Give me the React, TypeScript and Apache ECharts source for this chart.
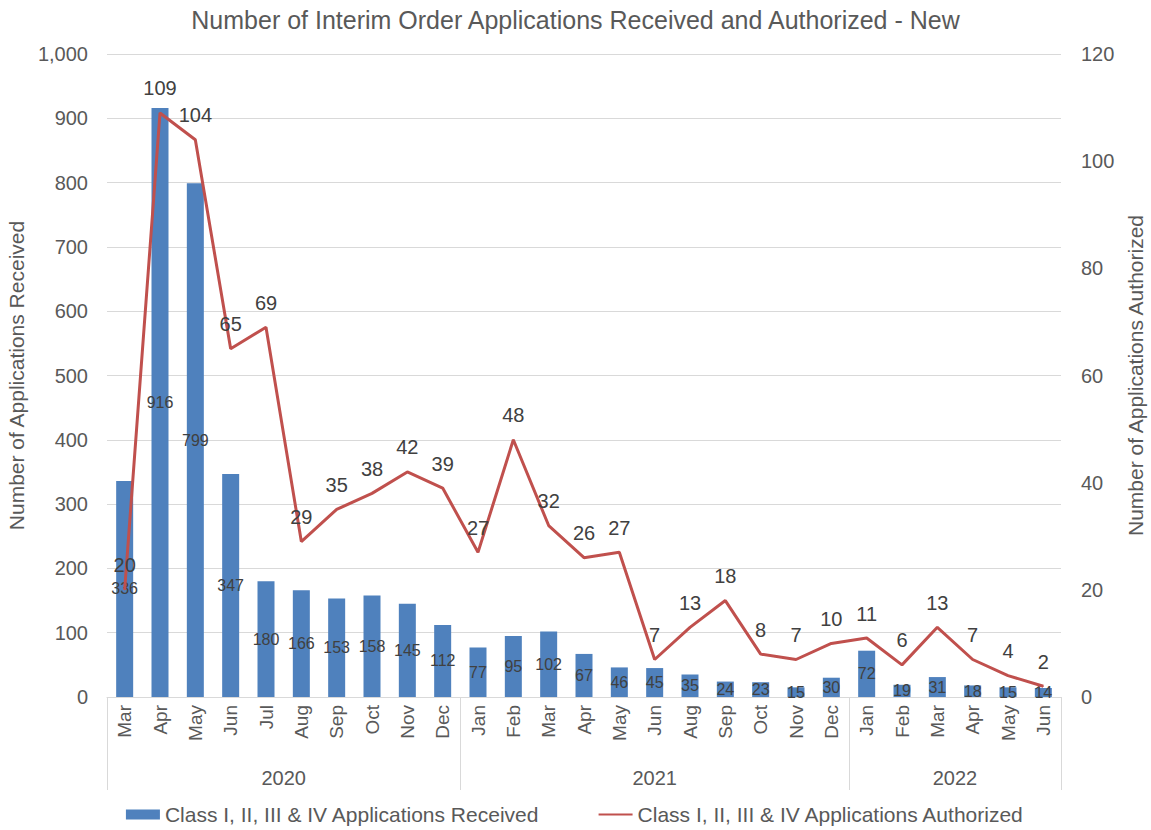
import React, { useEffect, useRef } from "react";
import * as echarts from "echarts";

const months = [
  "Mar", "Apr", "May", "Jun", "Jul", "Aug", "Sep", "Oct", "Nov", "Dec",
  "Jan", "Feb", "Mar", "Apr", "May", "Jun", "Aug", "Sep", "Oct", "Nov", "Dec",
  "Jan", "Feb", "Mar", "Apr", "May", "Jun",
];
const years = ["2020", "2021", "2022"];
const yearCounts = [10, 11, 6];
const received = [336, 916, 799, 347, 180, 166, 153, 158, 145, 112, 77, 95, 102, 67, 46, 45, 35, 24, 23, 15, 30, 72, 19, 31, 18, 15, 14];
const authorized = [20, 109, 104, 65, 69, 29, 35, 38, 42, 39, 27, 48, 32, 26, 27, 7, 13, 18, 8, 7, 10, 11, 6, 13, 7, 4, 2];

const TXT = "#595959";
const FONT = "Liberation Sans";

export default function App() {
  const ref = useRef<HTMLDivElement>(null);
  useEffect(() => {
    if (!ref.current) return;
    const chart = echarts.init(ref.current, null, { renderer: "svg" });
    const bounds: number[] = [0];
    const centers: number[] = [];
    yearCounts.forEach((c) => {
      const s = bounds[bounds.length - 1];
      centers.push(s + c / 2);
      bounds.push(s + c);
    });
    const total = months.length;
    chart.setOption({
      animation: false,
      textStyle: { fontFamily: FONT },
      title: {
        text: "Number of Interim Order Applications Received and Authorized - New",
        left: "center",
        top: 2,
        textStyle: { fontSize: 25, fontWeight: "normal", color: TXT, fontFamily: FONT },
      },
      legend: {
        bottom: 0,
        left: "center",
        itemGap: 58,
        itemWidth: 34,
        itemHeight: 10,
        textStyle: { fontSize: 21, color: TXT, fontFamily: FONT },
        data: [
          { name: "Class I, II, III & IV Applications Received", icon: "rect" },
          { name: "Class I, II, III & IV Applications Authorized", itemStyle: { opacity: 0 } },
        ],
      },
      grid: { left: 107, right: 90, top: 54, bottom: 133, outerBoundsMode: "none", containLabel: false },
      xAxis: [
        {
          type: "category",
          data: months,
          axisLine: { lineStyle: { color: "#d9d9d9" } },
          axisTick: { show: false },
          axisLabel: { rotate: 90, fontSize: 19, color: TXT, margin: 8, interval: 0 },
        },
        {
          type: "value",
          position: "bottom",
          min: 0,
          max: total,
          axisLine: { show: false },
          splitLine: { show: false },
          axisTick: {
            show: true,
            length: 93,
            customValues: bounds,
            lineStyle: { color: "#d9d9d9" },
          },
          axisLabel: {
            customValues: centers,
            margin: 71,
            fontSize: 20,
            color: TXT,
            formatter: (v: number) => {
              const i = centers.findIndex((c) => Math.abs(c - v) < 1e-6);
              return i >= 0 ? years[i] : "";
            },
          },
        },
      ],
      yAxis: [
        {
          type: "value",
          min: 0,
          max: 1000,
          interval: 100,
          name: "Number of Applications Received",
          nameLocation: "middle",
          nameGap: 79,
          nameTextStyle: { fontSize: 21, color: TXT },
          axisLine: { show: false },
          axisTick: { show: false },
          axisLabel: {
            fontSize: 20,
            color: TXT,
            margin: 19,
            formatter: (v: number) => v.toLocaleString("en-US"),
          },
          splitLine: { lineStyle: { color: "#d9d9d9" } },
        },
        {
          type: "value",
          min: 0,
          max: 120,
          interval: 20,
          name: "Number of Applications Authorized",
          nameLocation: "middle",
          nameGap: 49,
          nameTextStyle: { fontSize: 21, color: TXT },
          axisLine: { show: false },
          axisTick: { show: false },
          axisLabel: { fontSize: 20, color: TXT, margin: 20 },
          splitLine: { show: false },
        },
      ],
      series: [
        {
          name: "Class I, II, III & IV Applications Received",
          type: "bar",
          data: received,
          barWidth: 17,
          itemStyle: { color: "#4f81bd" },
          label: { show: true, position: "inside", fontSize: 16, color: "#404040" },
        },
        {
          name: "Class I, II, III & IV Applications Authorized",
          type: "line",
          yAxisIndex: 1,
          data: authorized,
          symbol: "circle",
          symbolSize: 1,
          lineStyle: { color: "#c0504d", width: 3 },
          itemStyle: { color: "#c0504d" },
          label: { show: true, position: "top", fontSize: 20, color: "#404040", distance: 14 },
        },
      ],
    });
    return () => chart.dispose();
  }, []);
  return (
    <div
      ref={ref}
      style={{ position: "absolute", left: 0, top: 0, width: 1151, height: 830 }}
    />
  );
}
